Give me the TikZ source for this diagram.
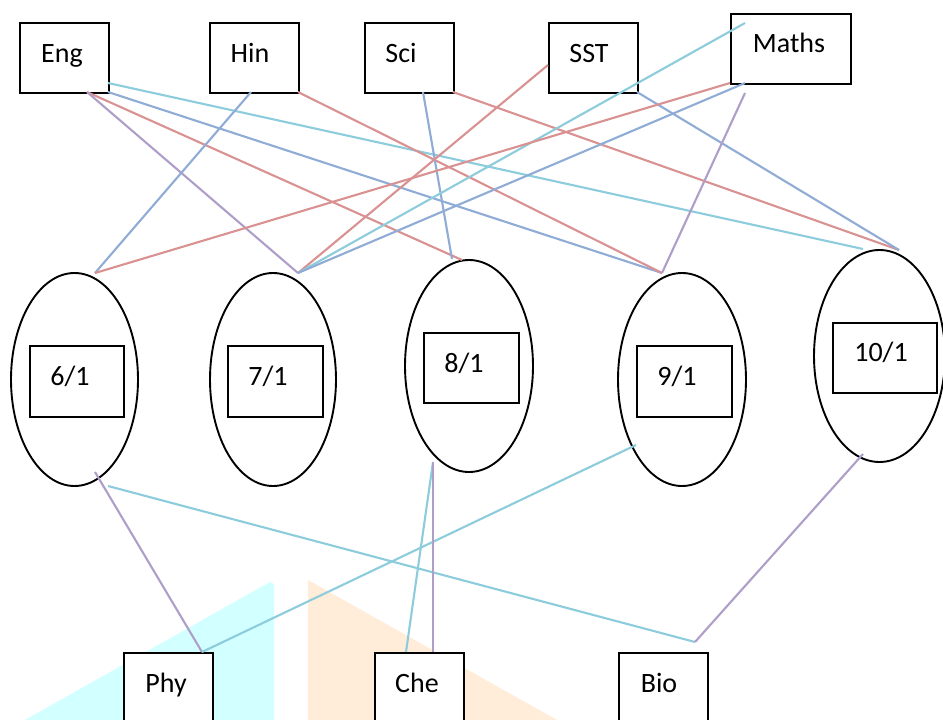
\documentclass[tikz,border=0pt]{standalone}
\usepackage{fontspec}
\setmainfont{Carlito}
\usetikzlibrary{shapes.geometric}
\definecolor{lc}{RGB}{140,204,220}
\definecolor{lb}{RGB}{143,172,214}
\definecolor{lr}{RGB}{217,145,145}
\definecolor{lp}{RGB}{174,158,200}
\definecolor{wmc}{RGB}{210,255,255}
\definecolor{wmp}{RGB}{255,237,218}
\begin{document}
\begin{tikzpicture}[x=1pt,y=-1pt,
  box/.style={draw, line width=1.9pt, fill=white, minimum width=89pt, minimum height=70pt, inner sep=0pt, anchor=north west},
  oval/.style={draw, ellipse, line width=1.9pt, inner sep=0pt},
  txt/.style={anchor=base, inner sep=0pt, font=\fontsize{28}{34}\selectfont},
  link/.style={line width=2.1pt}]
\clip (0,0) rectangle (943,720);
\fill[white] (0,0) rectangle (943,720);
% watermark shapes
\fill[wmc] (270,582) -- (274,584) -- (274,720) -- (25,720) -- cycle;
\fill[wmp] (308,580) -- (557,720) -- (308,720) -- cycle;
% top boxes
\node[box] (Eng) at (19,22) {};
\node[box] (Hin) at (209,22) {};
\node[box] (Sci) at (364,22) {};
\node[box] (SST) at (548,22) {};
\node[box, minimum width=120pt] (Maths) at (730,13) {};
\node[txt] (tEng) at (62,62) {Eng};
\node[txt] (tHin) at (250,62) {Hin};
\node[txt] (tSci) at (401,62) {Sci};
\node[txt] (tSST) at (589,62) {SST};
\node[txt] (tMaths) at (789,52) {Maths};
% ellipses
\node[oval, minimum width=127pt, minimum height=213pt] (E6) at (74.5,379.5) {};
\node[oval, minimum width=126pt, minimum height=213pt] (E7) at (273,379.5) {};
\node[oval, minimum width=128pt, minimum height=212pt] (E8) at (469,366) {};
\node[oval, minimum width=128pt, minimum height=213pt] (E9) at (682,379.5) {};
\node[oval, minimum width=131pt, minimum height=212pt] (E10) at (879.5,356) {};
\node[box, minimum width=94pt, minimum height=71pt] (B6) at (29,345) {};
\node[box, minimum width=95pt, minimum height=71pt] (B7) at (227,345) {};
\node[box, minimum width=95pt, minimum height=70pt] (B8) at (423,332) {};
\node[box, minimum width=95pt, minimum height=71pt] (B9) at (636,345) {};
\node[box, minimum width=104pt, minimum height=70pt] (B10) at (832,322) {};
\node[txt] (t6) at (70,385) {6/1};
\node[txt] (t7) at (268,385) {7/1};
\node[txt] (t8) at (464,372) {8/1};
\node[txt] (t9) at (677,385) {9/1};
\node[txt] (t10) at (881,361) {10/1};
% bottom boxes
\node[box, minimum height=75pt] (Phy) at (123,652) {};
\node[box, minimum height=75pt] (Che) at (374,652) {};
\node[box, minimum height=75pt] (Bio) at (618,652) {};
\node[txt] (tPhy) at (166,692) {Phy};
\node[txt] (tChe) at (417,692) {Che};
\node[txt] (tBio) at (659,692) {Bio};
% connector end points
\coordinate (engR) at (108,83);
\coordinate (engBR) at (108,92);
\coordinate (engB) at (87,92);
\coordinate (hinB) at (251,92);
\coordinate (hinBR) at (298,92);
\coordinate (sciB) at (423,92);
\coordinate (sciBR) at (453,92);
\coordinate (sstL) at (548,65);
\coordinate (sstBR) at (637,92);
\coordinate (mIn) at (745,23);
\coordinate (mBL) at (730,83);
\coordinate (mB) at (745,83);
\coordinate (mB2) at (745,93);
\coordinate (e6t) at (95,273);
\coordinate (e7t) at (298,273);
\coordinate (e8t) at (462,260);
\coordinate (e8t2) at (452,259);
\coordinate (e9t) at (662,273);
\coordinate (e10t) at (899,250);
\coordinate (e10tc) at (863,249);
\coordinate (e6b) at (95,472);
\coordinate (e6b2) at (108,486);
\coordinate (e8b) at (433,462);
\coordinate (e9b) at (636,445);
\coordinate (e10b) at (863,454);
\coordinate (phyT) at (202,652);
\coordinate (cheT1) at (406,652);
\coordinate (cheT2) at (433,652);
\coordinate (bioP) at (695,642);
% connectors top
\draw[link, lc] (engR) -- (e10tc);
\draw[link, lb] (engBR) -- (e9t);
\draw[link, lr] (engB) -- (e8t);
\draw[link, lp] (engB) -- (e7t);
\draw[link, lb] (hinB) -- (e6t);
\draw[link, lr] (hinBR) -- (e9t);
\draw[link, lb] (sciB) -- (e8t2);
\draw[link, lr] (sciBR) -- (e10t);
\draw[link, lr] (sstL) -- (e7t);
\draw[link, lb] (sstBR) -- (e10t);
\draw[link, lc] (mIn) -- (e7t);
\draw[link, lr] (mBL) -- (e6t);
\draw[link, lb] (mB) -- (e7t);
\draw[link, lp] (mB2) -- (e9t);
% connectors bottom
\draw[link, lp] (e6b) -- (phyT);
\draw[link, lc] (e6b2) -- (bioP);
\draw[link, lc] (e9b) -- (phyT);
\draw[link, lc] (e8b) -- (cheT1);
\draw[link, lp] (e8b) -- (cheT2);
\draw[link, lp] (e10b) -- (bioP);
\end{tikzpicture}
\end{document}
